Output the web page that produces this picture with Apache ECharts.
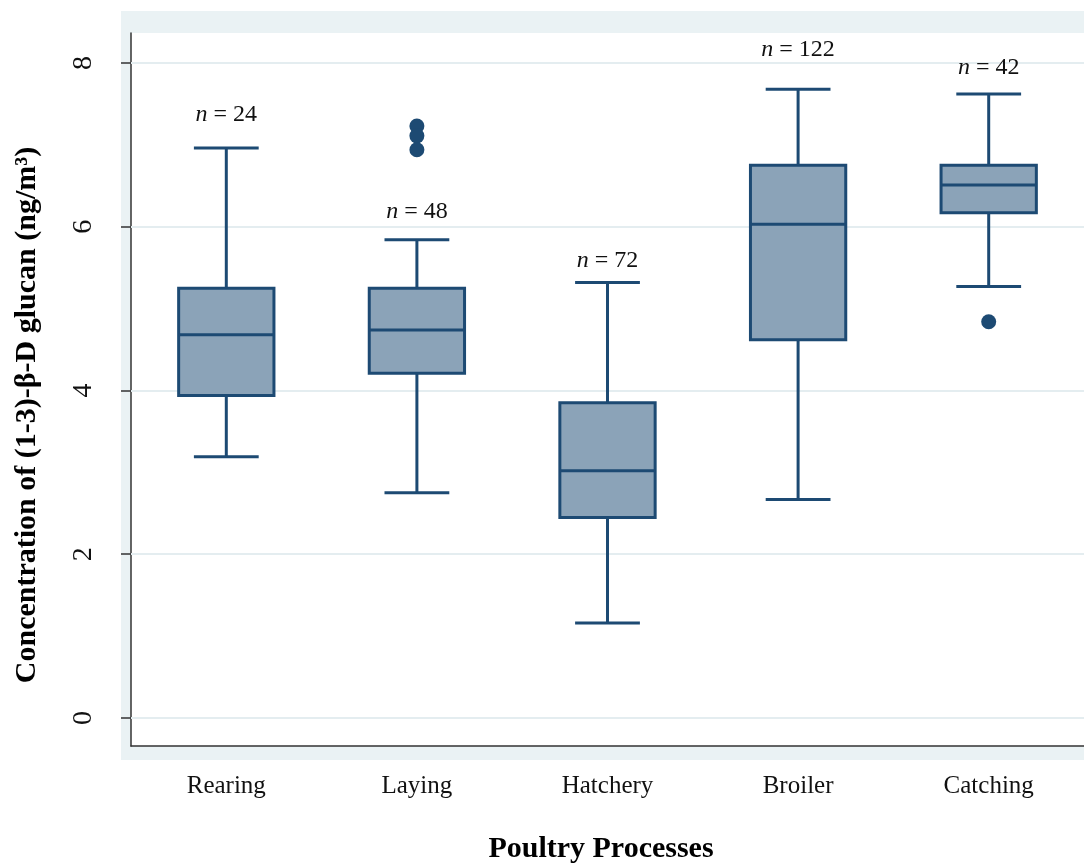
<!DOCTYPE html>
<html>
<head>
<meta charset="utf-8">
<title>(1-3)-β-D glucan by poultry process</title>
<script src="https://cdn.jsdelivr.net/npm/echarts@6/dist/echarts.min.js"></script>
<style>
  html, body { margin: 0; padding: 0; background: #fff; }
  #chart { width: 1084px; height: 865px; }
</style>
</head>
<body>
<div id="chart"></div>
<script>
// Poultry processes on the category axis
const categories = ['Rearing', 'Laying', 'Hatchery', 'Broiler', 'Catching'];

// Box statistics per process: [lower whisker, Q1, median, Q3, upper whisker]
const lowerWhisker = [3.19, 2.75, 1.16, 2.67, 5.27];
const quartile1    = [3.94, 4.21, 2.45, 4.62, 6.17];
const medians      = [4.68, 4.74, 3.02, 6.03, 6.51];
const quartile3    = [5.25, 5.25, 3.85, 6.75, 6.75];
const upperWhisker = [6.96, 5.84, 5.32, 7.68, 7.62];

// Outside values: [category index, concentration]
const outliers = [[1, 7.23], [1, 7.11], [1, 6.94], [4, 4.84]];

// Sample sizes and the height at which each is printed
const sampleSizes = [24, 48, 72, 122, 42];
const sampleLabelY = [7.37, 6.18, 5.59, 8.16, 7.94];

// Y axis ticks
const yTicks = [0, 2, 4, 6, 8];

const serif = 'Liberation Serif';
const navy = '#1d4a73';
const boxFill = '#8ba3b8';
const ink = '#111111';

const boxData = categories.map((c, i) => [i, lowerWhisker[i], quartile1[i], medians[i], quartile3[i], upperWhisker[i]]);

function renderBox(params, api) {
  const idx = api.value(0);
  const band = api.size([1, 0])[0];
  const boxW = band * 0.5;
  const capW = band * 0.34;
  const pLo = api.coord([idx, api.value(1)]);
  const pQ1 = api.coord([idx, api.value(2)]);
  const pMed = api.coord([idx, api.value(3)]);
  const pQ3 = api.coord([idx, api.value(4)]);
  const pHi = api.coord([idx, api.value(5)]);
  const x = pMed[0];
  const line = { stroke: navy, lineWidth: 3 };
  return {
    type: 'group',
    children: [
      { type: 'line', shape: { x1: x, y1: pHi[1], x2: x, y2: pQ3[1] }, style: line },
      { type: 'line', shape: { x1: x, y1: pQ1[1], x2: x, y2: pLo[1] }, style: line },
      { type: 'line', shape: { x1: x - capW / 2, y1: pHi[1], x2: x + capW / 2, y2: pHi[1] }, style: line },
      { type: 'line', shape: { x1: x - capW / 2, y1: pLo[1], x2: x + capW / 2, y2: pLo[1] }, style: line },
      { type: 'rect', shape: { x: x - boxW / 2, y: pQ3[1], width: boxW, height: pQ1[1] - pQ3[1] },
        style: { fill: boxFill, stroke: navy, lineWidth: 3 } },
      { type: 'line', shape: { x1: x - boxW / 2, y1: pMed[1], x2: x + boxW / 2, y2: pMed[1] }, style: line }
    ]
  };
}

const chart = echarts.init(document.getElementById('chart'), null, { renderer: 'canvas' });

chart.setOption({
  backgroundColor: '#ffffff',
  animation: false,
  graphic: [
    { type: 'rect', z: -20, silent: true, shape: { x: 121, y: 11, width: 963, height: 749 }, style: { fill: '#eaf2f4' } },
    { type: 'rect', z: -19, silent: true, shape: { x: 131, y: 33, width: 953, height: 713 }, style: { fill: '#ffffff' } },
    {
      type: 'text', silent: true, x: 601, y: 849,
      style: { text: 'Poultry Processes', font: 'bold 30px "Liberation Serif"', fill: '#000',
        textAlign: 'center', textVerticalAlign: 'middle' }
    },
    {
      type: 'text', silent: true, rotation: Math.PI / 2, x: 27, y: 415,
      style: { text: 'Concentration of (1-3)-β-D glucan (ng/m³)', font: 'bold 30px "Liberation Serif"', fill: '#000',
        textAlign: 'center', textVerticalAlign: 'middle' }
    }
  ],
  grid: { left: 131, top: 33, right: 0, bottom: 119, containLabel: false },
  xAxis: {
    type: 'category',
    data: categories,
    axisLine: { show: true, onZero: false, lineStyle: { color: '#333', width: 1.5 } },
    axisTick: { show: false },
    splitLine: { show: false },
    axisLabel: { color: ink, fontFamily: serif, fontSize: 25, margin: 28 }
  },
  yAxis: {
    type: 'value',
    min: -0.342,
    max: 8.366,
    axisLine: { show: true, lineStyle: { color: '#333', width: 1.5 } },
    axisTick: { show: true, length: 10, lineStyle: { color: '#333', width: 1.5 }, customValues: yTicks },
    axisLabel: { color: ink, fontFamily: serif, fontSize: 28, rotate: 90, margin: 33, customValues: yTicks },
    splitLine: { show: false }
  },
  series: [
    {
      type: 'custom',
      name: 'box',
      renderItem: renderBox,
      data: boxData,
      encode: { x: 0, y: [1, 2, 3, 4, 5] },
      z: 3,
      markLine: {
        silent: true,
        symbol: 'none',
        label: { show: false },
        z: 1,
        lineStyle: { color: '#e4edf0', width: 2, type: 'solid' },
        data: yTicks.map(v => ({ yAxis: v }))
      }
    },
    {
      type: 'scatter',
      name: 'outliers',
      data: outliers,
      symbol: 'circle',
      symbolSize: 15,
      itemStyle: { color: navy, opacity: 1 },
      z: 4
    },
    {
      type: 'scatter',
      name: 'n',
      data: categories.map((c, i) => [i, sampleLabelY[i], sampleSizes[i]]),
      symbolSize: 0,
      silent: true,
      itemStyle: { opacity: 1 },
      label: {
        show: true,
        position: 'inside',
        formatter: p => '{i|n} = ' + p.value[2],
        fontFamily: serif,
        fontSize: 24,
        color: ink,
        rich: { i: { fontFamily: serif, fontStyle: 'italic', fontSize: 24, color: ink } }
      },
      z: 5
    }
  ]
});
</script>
</body>
</html>
